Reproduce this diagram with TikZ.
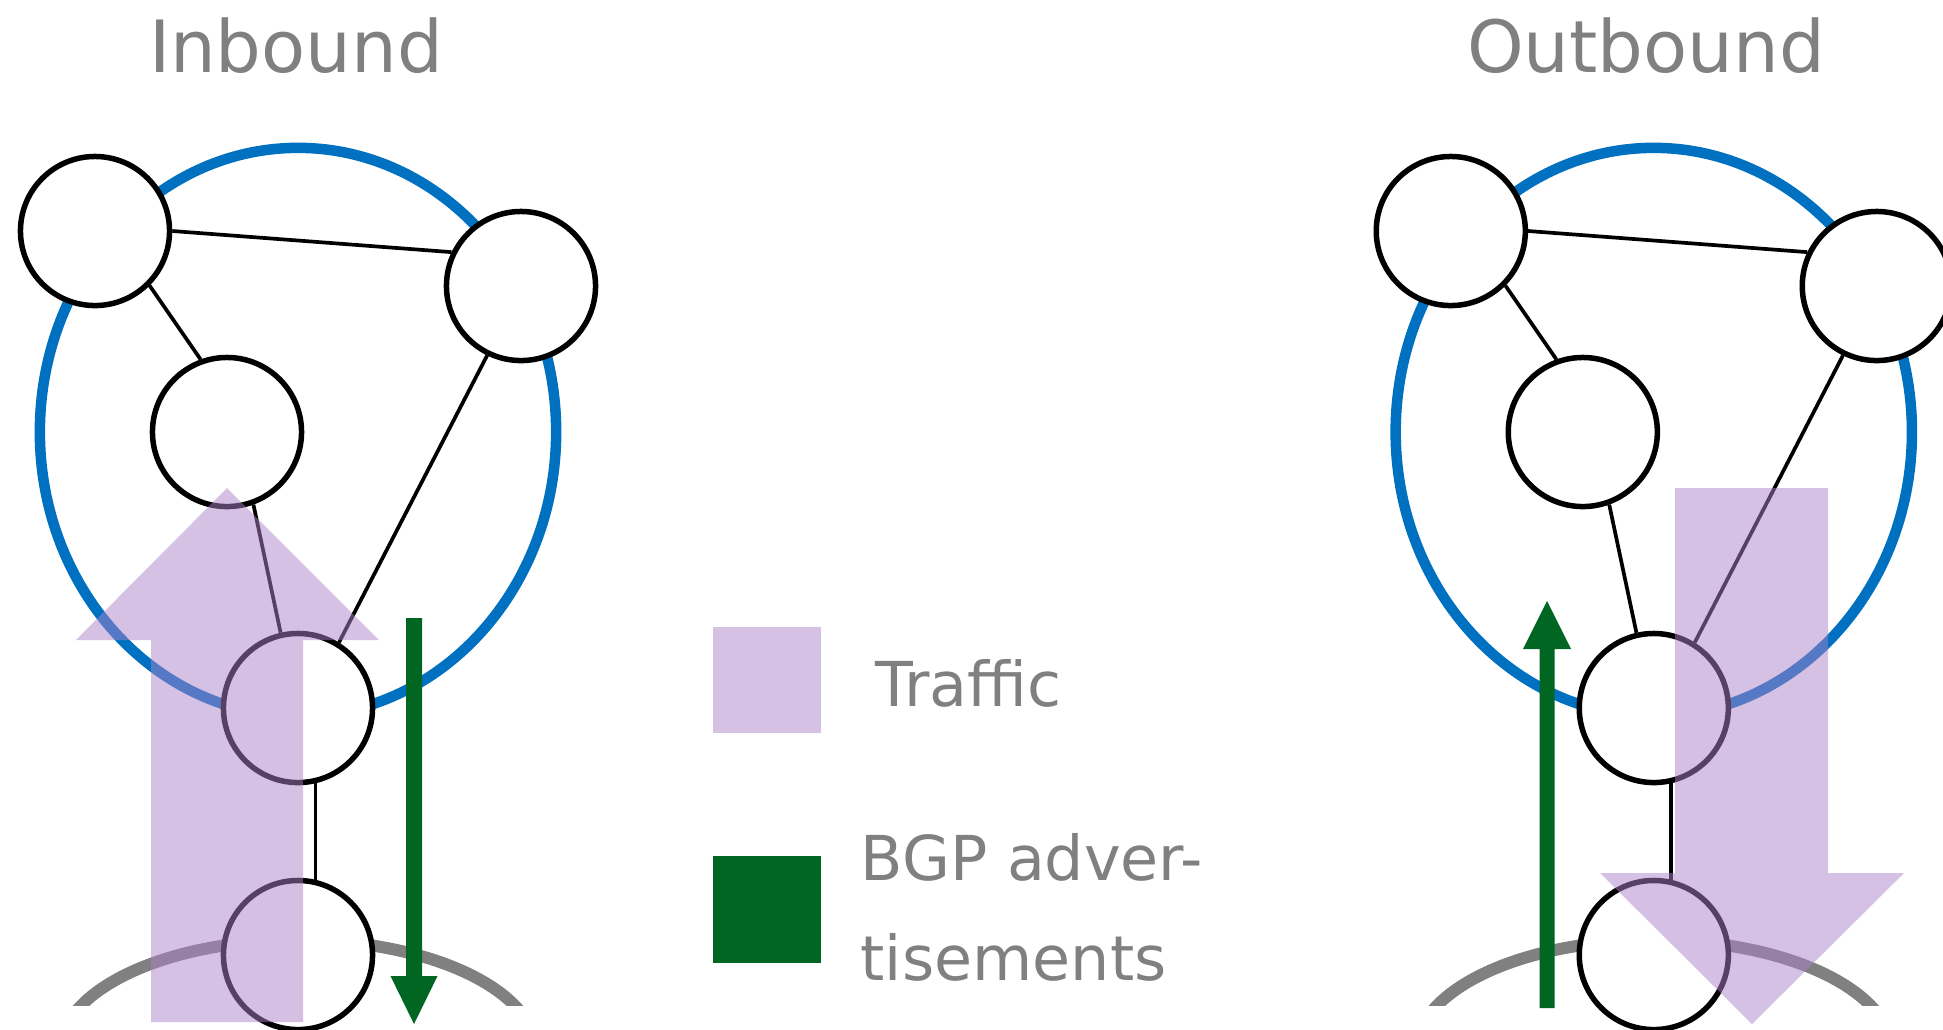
\documentclass[tikz,border=0pt]{standalone}
\usepackage{fontspec}
\setmainfont{DejaVu Sans}
\definecolor{netblue}{RGB}{0,112,192}
\definecolor{advgreen}{RGB}{0,102,34}
\definecolor{trafpurple}{RGB}{172,131,202}
\definecolor{txtgray}{RGB}{128,128,128}
\newcommand{\netside}[2]{%
  \begin{scope}[xshift=#1]
    \draw[asring] (298,432) ellipse [x radius=2.58cm,y radius=2.84cm];
    \begin{scope}
      \clip (0,0) rectangle (620,1005);
      \draw[upstream] (298,1052) ellipse [x radius=2.38cm,y radius=1.12cm];
    \end{scope}
    \node[router] (A#2) at (95,231) {};
    \node[router] (B#2) at (521,286) {};
    \node[router] (C#2) at (227,432) {};
    \node[router] (D#2) at (298,708) {};
    \node[router] (E#2) at (298,955) {};
    \draw[link] (A#2.east) -- (B#2.154);
    \draw[link] (A#2.-45) -- (C#2.110);
    \draw[link] (C#2.-70) -- (D#2.103);
    \draw[link] (B#2.-116) -- (D#2.58);
    \draw[link] (D#2.-77) -- (E#2.77);
  \end{scope}}
\begin{document}
\begin{tikzpicture}[x=0.01cm,y=-0.01cm,
  router/.style={circle,draw=black,fill=white,line width=0.055cm,minimum size=1.49cm,inner sep=0pt},
  link/.style={draw=black,line width=0.037cm},
  asring/.style={draw=netblue,line width=0.105cm},
  upstream/.style={draw=txtgray,line width=0.12cm},
  traffic/.style={fill=trafpurple,fill opacity=0.5},
  advert/.style={fill=advgreen},
  heading/.style={text=txtgray,font=\fontsize{20.5pt}{24pt}\selectfont,anchor=base,inner sep=0pt},
  legendtext/.style={text=txtgray,font=\fontsize{17.6pt}{21pt}\selectfont,anchor=base west,inner sep=0pt}]
  \useasboundingbox (0,0) rectangle (1943,1029);
  \clip (0,0) rectangle (1943,1029);

  \netside{0cm}{l}
  \netside{13.55cm}{r}

  % BGP advertisements
  \fill[advert] (406,618) -- (422,618) -- (422,976) -- (437.5,976) -- (414,1024)
     -- (390.5,976) -- (406,976) -- cycle;
  \fill[advert] (1539.5,1008) -- (1554.5,1008) -- (1554.5,649) -- (1571,649)
     -- (1547,601) -- (1523,649) -- (1539.5,649) -- cycle;

  % Traffic
  \fill[traffic] (151,1022) -- (151,640) -- (76,640) -- (227,488) -- (379,640)
     -- (303,640) -- (303,1022) -- cycle;
  \fill[traffic] (1675,488) -- (1828,488) -- (1828,873) -- (1904,873)
     -- (1752,1024) -- (1600,873) -- (1675,873) -- cycle;

  % Legend
  \fill[traffic] (713,627) rectangle (821,733);
  \fill[advert] (713,856) rectangle (821,963);
  \node[legendtext] (traf) at (875,706) {Traffic};
  \node[legendtext] (bgpa) at (860,880) {BGP adver-};
  \node[legendtext] (bgpb) at (860,980) {tisements};

  % Titles
  \node[heading] (inb) at (296,72) {Inbound};
  \node[heading] (outb) at (1646,72) {Outbound};
\end{tikzpicture}
\end{document}
